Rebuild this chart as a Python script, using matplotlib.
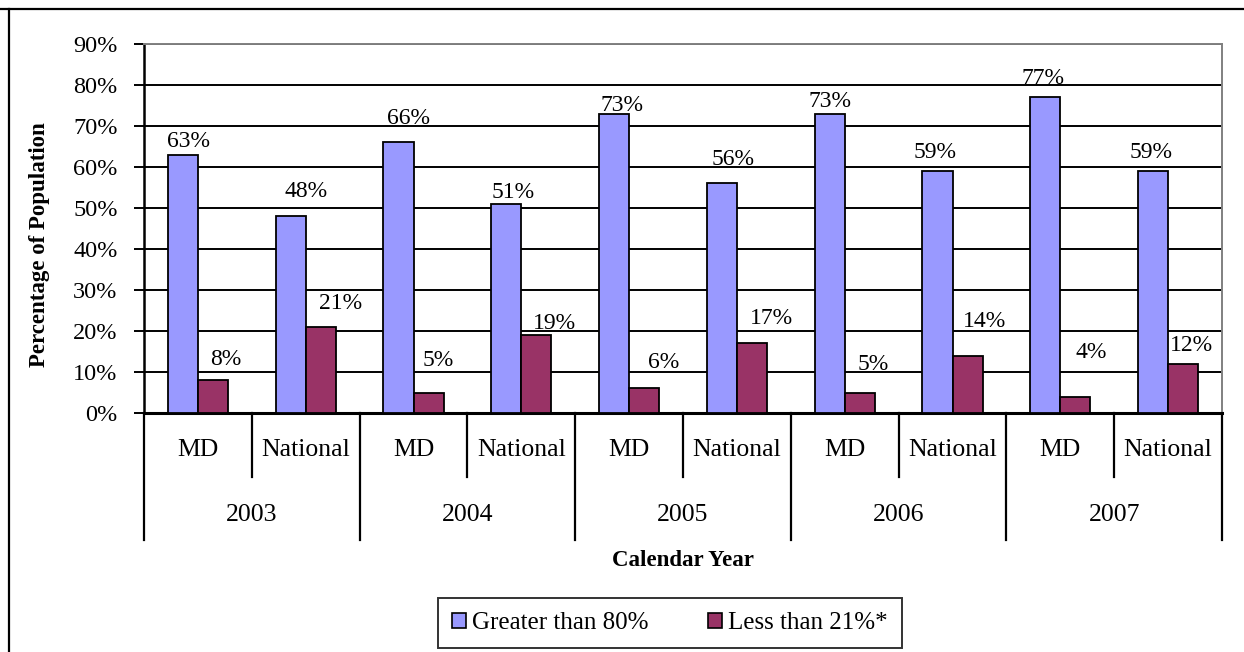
import matplotlib
matplotlib.use("Agg")
import matplotlib.pyplot as plt
from matplotlib.lines import Line2D
from matplotlib.patches import Patch
import matplotlib.transforms as mtransforms
import numpy as np

# Data
years = ["2003", "2004", "2005", "2006", "2007"]
groups = ["MD", "National"]
greater_than_80 = [63, 48, 66, 51, 73, 56, 73, 59, 77, 59]
less_than_21 = [8, 21, 5, 19, 6, 17, 5, 14, 4, 12]
series_names = ["Greater than 80%", "Less than 21%*"]
y_ticks = [0, 10, 20, 30, 40, 50, 60, 70, 80, 90]

# Hand-placed data label nudges (pixels: right, up from bar top to baseline)
blue_label_nudge = [(6, 8), (15, 19), (10, 18), (7, 6), (8, 3),
                    (11, 18), (0, 7), (-2, 13), (-2, 13), (-2, 13)]
plum_label_nudge = [(13, 15), (20, 18), (10, 27), (18, 6), (19, 20),
                    (19, 19), (13, 23), (17, 29), (16, 39), (8, 13)]

BLUE = "#9999FF"
PLUM = "#993366"
SERIF = ["Liberation Serif", "DejaVu Serif"]

plt.rcParams["font.family"] = SERIF

W, H = 1244, 652
fig = plt.figure(figsize=(W / 100, H / 100), dpi=100)
ax = fig.add_axes([144 / W, 1 - 413 / H, (1222 - 144) / W, (413 - 44) / H])

n = len(greater_than_80)
x = np.arange(n)
w = 0.28

ax.bar(x - w / 2, greater_than_80, w, color=BLUE, edgecolor="black",
       linewidth=1.3, zorder=3)
ax.bar(x + w / 2, less_than_21, w, color=PLUM, edgecolor="black",
       linewidth=1.3, zorder=3)

for xi, v, (dx, dy) in zip(x, greater_than_80, blue_label_nudge):
    ax.annotate(f"{v}%", (xi - w / 2, v), xytext=(dx, dy), textcoords="offset pixels",
                ha="center", va="baseline", fontsize=17, family=SERIF, zorder=4)
for xi, v, (dx, dy) in zip(x, less_than_21, plum_label_nudge):
    ax.annotate(f"{v}%", (xi + w / 2, v), xytext=(dx, dy), textcoords="offset pixels",
                ha="center", va="baseline", fontsize=17, family=SERIF, zorder=4)

ax.set_xlim(-0.5, n - 0.5)
ax.set_ylim(0, 90)
ax.set_yticks(y_ticks)
ax.set_yticklabels([f"{t}%" for t in y_ticks], fontsize=17.5)
ax.set_xticks([])
ax.yaxis.grid(True, color="black", linewidth=1.4, zorder=0)
ax.set_axisbelow(True)
ax.tick_params(axis="y", direction="out", length=7, width=1.4, pad=12)

for side in ["top", "right"]:
    ax.spines[side].set_color("#808080")
    ax.spines[side].set_linewidth(1.4)
ax.spines["left"].set_linewidth(1.8)
ax.spines["bottom"].set_linewidth(2.2)

# Two-level category axis below the plot
trans = mtransforms.blended_transform_factory(ax.transData, ax.transAxes)
ax_h_px = 413 - 44
inner = -(477 - 413) / ax_h_px
outer = -(540 - 413) / ax_h_px
for i in range(n + 1):
    bound = i - 0.5
    depth = outer if i % 2 == 0 else inner
    ax.add_line(Line2D([bound, bound], [0, depth], transform=trans, color="black",
                       linewidth=1.6, clip_on=False))
for i in range(n):
    ax.text(i, -(450 - 413) / ax_h_px, groups[i % 2], transform=trans,
            ha="center", va="center", fontsize=18.5)
for j, yr in enumerate(years):
    ax.text(2 * j + 0.5, -(515 - 413) / ax_h_px, yr, transform=trans,
            ha="center", va="center", fontsize=18.5)

fig.text(683 / W, 1 - 560 / H, "Calendar Year", ha="center", va="center",
         fontsize=16.5, fontweight="bold")
fig.text(40 / W, 1 - 245 / H, "Percentage of Population", ha="center", va="center",
         rotation=90, fontsize=16.5, fontweight="bold")

handles = [Patch(facecolor=BLUE, edgecolor="black", linewidth=1.2),
           Patch(facecolor=PLUM, edgecolor="black", linewidth=1.2)]
leg = fig.legend(handles, series_names, loc="center", ncol=2,
                 bbox_to_anchor=(670 / W, 1 - 623 / H), frameon=True, fancybox=False,
                 edgecolor="black", fontsize=18, handlelength=0.55, handleheight=0.55,
                 handletextpad=0.25, columnspacing=2.4, borderpad=0.55)
leg.get_frame().set_linewidth(1.4)

# Outer chart frame
fig.add_artist(Line2D([0, 1], [1 - 9 / H, 1 - 9 / H], transform=fig.transFigure,
                      color="black", linewidth=1.6))
fig.add_artist(Line2D([9 / W, 9 / W], [0, 1 - 9 / H], transform=fig.transFigure,
                      color="black", linewidth=1.6))

fig.savefig("out.png", dpi=100)
